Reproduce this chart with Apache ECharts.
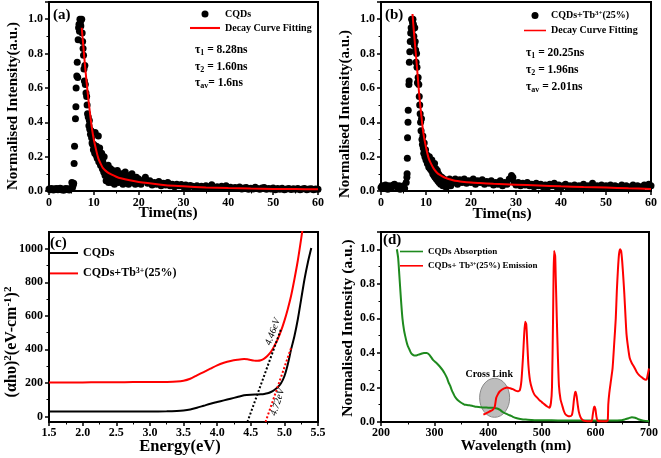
<!DOCTYPE html>
<html>
<head>
<meta charset="utf-8">
<script src="https://cdn.jsdelivr.net/npm/echarts@6/dist/echarts.min.js"></script>
<style>
  html, body { margin: 0; padding: 0; background: #fff; }
  #main { width: 661px; height: 458px; }
</style>
</head>
<body>
<div id="main"></div>
<script>
// ---- data ----
// (a) CQDs decay: [time ns, normalised intensity]
var aPoints = [[0,0.012],[0.25,0.008],[0.5,0.015],[0.75,0.010],[1,0.006],[1.25,0.013],[1.5,0.009],[1.75,0.014],[2,0.007],[2.25,0.011],[2.5,0.016],[2.75,0.008],[3,0.012],[3.25,0.005],[3.5,0.010],[3.75,0.014],[4,0.009],[4.25,0.013],[4.5,0.006],[4.75,0.011],[5,0.015],[5.1,0.05],[5.25,0.02],[5.4,0.035],[5.5,0.045],[5.6,0.16],[5.7,0.26],[5.9,0.42],[6.0,0.49],[6.05,0.60],[6.2,0.67],[6.3,0.75],[6.4,0.66],[6.5,0.88],[6.6,0.95],[6.7,0.97],[6.8,0.93],[6.9,1.0],[7.0,0.98],[7.1,0.96],[7.3,1.0],[7.4,0.92],[7.5,0.87],[7.6,0.83],[7.7,0.79],[7.8,0.71],[7.9,0.64],[8.0,0.73],[8.1,0.62],[8.25,0.57],[8.4,0.55],[8.5,0.50],[8.6,0.45],[8.75,0.43],[8.9,0.38],[9.0,0.41],[9.1,0.36],[9.25,0.33],[9.4,0.35],[9.5,0.31],[9.6,0.28],[9.75,0.27],[9.9,0.24],[10.0,0.27],[10.2,0.22],[10.3,0.34],[10.4,0.25],[10.5,0.21],[10.6,0.26],[10.75,0.19],[10.9,0.23],[11.0,0.32],[11.1,0.17],[11.2,0.21],[11.3,0.25],[11.5,0.15],[11.6,0.19],[11.75,0.22],[11.9,0.13],[12.0,0.17],[12.2,0.11],[12.3,0.2],[12.5,0.09],[12.6,0.14],[12.75,0.06],[12.9,0.12],[13.0,0.08],[13.2,0.15],[13.3,0.05],[13.5,0.11],[13.6,0.07],[13.75,0.13],[13.9,0.09],[14.0,0.05],[14.25,0.12],[14.5,0.08],[14.6,0.04],[14.75,0.1],[15.0,0.07],[15.25,0.12],[15.5,0.05],[15.75,0.09],[16.0,0.06],[16.25,0.1],[16.5,0.04],[16.75,0.08],[17.0,0.11],[17.25,0.06],[17.5,0.09],[17.75,0.04],[18.0,0.08],[18.25,0.06],[18.5,0.1],[18.75,0.05],[19.0,0.07],[19.25,0.04],[19.5,0.08],[19.75,0.05],[20,0.07],[20.5,0.04],[21,0.06],[21.5,0.08],[22,0.045],[22.5,0.06],[23,0.035],[23.5,0.05],[24,0.04],[24.5,0.055],[25,0.03],[25.5,0.045],[26,0.035],[26.5,0.05],[27,0.03],[27.5,0.04],[28,0.025],[28.5,0.04],[29,0.03],[29.5,0.038],[30,0.025],[30.5,0.035],[31,0.02],[31.5,0.032],[32,0.028],[32.5,0.02],[33,0.03],[33.5,0.018],[34,0.027],[34.5,0.022],[35,0.03],[35.5,0.02],[36,0.026],[36.3,0.036],[36.6,0.022],[37,0.018],[37.5,0.025],[38,0.02],[38.5,0.028],[39,0.015],[39.5,0.03],[40,0.018],[40.5,0.022],[41,0.014],[41.5,0.02],[42,0.016],[42.5,0.024],[43,0.012],[43.5,0.018],[44,0.02],[44.5,0.01],[45,0.016],[45.5,0.012],[46,0.022],[46.5,0.014],[47,0.01],[47.5,0.018],[48,0.02],[48.5,0.01],[49,0.015],[49.5,0.012],[50,0.018],[50.5,0.008],[51,0.014],[51.5,0.01],[52,0.016],[52.5,0.008],[53,0.012],[53.5,0.015],[54,0.009],[54.5,0.013],[55,0.01],[55.5,0.015],[56,0.008],[56.5,0.012],[57,0.014],[57.5,0.007],[58,0.011],[58.5,0.013],[59,0.008],[59.5,0.012],[60,0.01]];
var aFit = [[7.3,0.95],[7.6,0.86],[8.0,0.74],[8.4,0.63],[8.8,0.53],[9.2,0.44],[9.6,0.36],[10,0.30],[10.5,0.24],[11,0.19],[11.5,0.16],[12,0.135],[13,0.11],[14,0.095],[15,0.083],[16,0.074],[18,0.062],[20,0.053],[22,0.046],[25,0.037],[28,0.030],[30,0.027],[35,0.021],[40,0.017],[45,0.014],[50,0.012],[55,0.011],[60,0.010]];

// (b) CQDs+Tb3+(25%) decay
var bPoints = [[0,0.02],[0.25,0.03],[0.5,0.015],[0.75,0.025],[1,0.035],[1.25,0.02],[1.5,0.01],[1.75,0.03],[2,0.025],[2.25,0.02],[2.5,0.03],[2.75,0.035],[3,0.04],[3.25,0.03],[3.5,0.025],[3.75,0.02],[4,0.03],[4.25,0.01],[4.5,0.025],[4.75,0.02],[5,0.03],[5.25,0.015],[5.6,0.05],[5.75,0.08],[5.8,0.10],[5.85,0.19],[5.9,0.31],[6.0,0.40],[6.05,0.47],[6.2,0.62],[6.25,0.64],[6.3,0.75],[6.4,0.81],[6.5,0.87],[6.6,0.92],[6.7,0.95],[6.8,1.0],[6.9,0.93],[7.0,0.98],[7.1,1.0],[7.2,0.97],[7.3,0.90],[7.4,0.85],[7.5,0.95],[7.6,0.87],[7.7,0.82],[7.8,0.75],[7.9,0.80],[8.0,0.72],[8.1,0.63],[8.25,0.66],[8.4,0.62],[8.5,0.55],[8.6,0.50],[8.7,0.45],[8.8,0.40],[8.9,0.35],[9.0,0.42],[9.1,0.30],[9.2,0.27],[9.3,0.32],[9.4,0.25],[9.5,0.22],[9.6,0.28],[9.75,0.20],[9.9,0.24],[10.0,0.18],[10.2,0.21],[10.3,0.16],[10.5,0.19],[10.6,0.14],[10.75,0.2],[10.9,0.13],[11.0,0.17],[11.2,0.12],[11.3,0.18],[11.5,0.10],[11.6,0.15],[11.75,0.09],[11.9,0.16],[12.0,0.08],[12.2,0.13],[12.3,0.07],[12.5,0.12],[12.6,0.06],[12.75,0.1],[12.9,0.05],[13.0,0.09],[13.25,0.04],[13.5,0.08],[13.75,0.03],[14.0,0.07],[14.25,0.05],[14.5,0.02],[14.75,0.06],[15,0.04],[15.25,0.07],[15.5,0.03],[15.75,0.06],[16,0.05],[16.5,0.07],[17,0.04],[17.5,0.065],[18,0.05],[18.5,0.07],[19,0.045],[19.5,0.06],[20,0.05],[20.5,0.07],[21,0.04],[21.5,0.06],[22,0.05],[22.5,0.065],[23,0.04],[23.5,0.055],[24,0.045],[24.5,0.06],[25,0.035],[25.5,0.05],[26,0.04],[26.5,0.06],[27,0.03],[27.5,0.05],[28,0.04],[28.5,0.07],[29,0.09],[29.3,0.08],[29.6,0.05],[30,0.035],[30.5,0.05],[31,0.03],[31.5,0.045],[32,0.035],[32.5,0.05],[33,0.03],[33.5,0.04],[34,0.025],[34.5,0.045],[35,0.03],[35.5,0.04],[36,0.025],[36.5,0.035],[37,0.02],[37.5,0.04],[38,0.03],[38.5,0.045],[39,0.025],[39.5,0.035],[40,0.02],[40.5,0.03],[41,0.04],[41.5,0.02],[42,0.03],[42.5,0.025],[43,0.035],[43.5,0.02],[44,0.03],[44.5,0.025],[45,0.04],[45.5,0.02],[46,0.03],[46.5,0.025],[47,0.045],[47.5,0.02],[48,0.03],[48.5,0.02],[49,0.035],[49.5,0.025],[50,0.03],[50.5,0.02],[51,0.035],[51.5,0.015],[52,0.03],[52.5,0.025],[53,0.02],[53.5,0.035],[54,0.02],[54.5,0.03],[55,0.015],[55.5,0.025],[56,0.035],[56.5,0.02],[57,0.03],[57.5,0.025],[58,0.02],[58.5,0.035],[59,0.03],[59.5,0.04],[60,0.03]];
var bFit = [[7.0,1.03],[7.3,0.93],[7.6,0.84],[8.0,0.72],[8.3,0.62],[8.6,0.53],[9.0,0.43],[9.4,0.34],[9.8,0.28],[10.2,0.23],[10.6,0.19],[11.0,0.165],[11.5,0.14],[12,0.12],[12.5,0.105],[13,0.095],[14,0.08],[15,0.07],[16,0.063],[17,0.058],[18,0.054],[20,0.049],[22,0.046],[25,0.042],[30,0.037],[35,0.032],[40,0.027],[45,0.023],[50,0.02],[55,0.016],[60,0.012]];

// (c) Tauc plot: [energy eV, (ahv)^2]
var cCqds = [[1.5,30],[1.75,30],[2.0,30],[2.25,30],[2.5,30],[2.75,30],[3.0,30],[3.25,31],[3.4,33],[3.5,36],[3.6,42],[3.7,52],[3.8,64],[3.9,76],[4.0,86],[4.1,96],[4.2,106],[4.3,116],[4.4,126],[4.5,130],[4.6,131],[4.65,132],[4.7,134],[4.75,138],[4.8,146],[4.85,158],[4.9,174],[4.95,198],[5.0,240],[5.05,310],[5.1,400],[5.15,480],[5.2,580],[5.25,700],[5.3,820],[5.35,920],[5.4,1005]];
var cTb = [[1.5,203],[1.75,203],[2.0,203],[2.25,204],[2.5,204],[2.75,205],[3.0,205],[3.25,206],[3.4,208],[3.5,213],[3.6,225],[3.7,245],[3.8,265],[3.9,285],[4.0,305],[4.1,320],[4.2,331],[4.3,338],[4.4,342],[4.45,341],[4.5,337],[4.55,333],[4.6,332],[4.65,335],[4.7,345],[4.75,362],[4.8,385],[4.85,420],[4.9,460],[4.95,510],[5.0,570],[5.05,640],[5.1,720],[5.15,820],[5.2,930],[5.25,1060],[5.3,1200]];
var cTangentCqds = [[4.45,-33],[4.95,521]];
var cTangentTb = [[4.72,-33],[5.1,409]];

// (d) absorption / emission: [wavelength nm, normalised intensity]
var dAbsorption = [[229.6,1.0],[232,0.95],[234,0.86],[237,0.72],[240,0.60],[243,0.53],[245,0.50],[248,0.46],[250,0.44],[253,0.42],[256,0.40],[259,0.39],[262,0.385],[266,0.385],[270,0.39],[275,0.395],[280,0.40],[285,0.40],[290,0.39],[297,0.36],[304,0.34],[310,0.32],[315,0.30],[319,0.28],[323,0.255],[326,0.23],[329,0.21],[332,0.185],[335,0.165],[338,0.146],[342,0.13],[347,0.117],[352,0.107],[356,0.10],[360,0.099],[365,0.097],[372,0.092],[378,0.088],[385,0.086],[390,0.084],[400,0.083],[409,0.082],[414,0.08],[418,0.077],[422,0.07],[427,0.058],[433,0.048],[440,0.039],[446,0.03],[452,0.023],[460,0.018],[470,0.014],[480,0.012],[495,0.01],[507,0.01],[530,0.009],[560,0.008],[600,0.008],[630,0.008],[649,0.01],[655,0.015],[662,0.022],[668,0.028],[674,0.025],[680,0.016],[690,0.008],[700,0.004]];
var dEmission = [[391,0.043],[396,0.05],[402,0.06],[408,0.07],[412,0.085],[415,0.14],[418,0.16],[421,0.175],[426,0.188],[430,0.195],[436,0.20],[441,0.195],[446,0.19],[451,0.182],[455,0.178],[459,0.185],[462,0.24],[465,0.38],[467,0.5],[469,0.58],[471,0.565],[473,0.45],[475,0.33],[478,0.24],[482,0.19],[486,0.16],[490,0.145],[495,0.128],[500,0.115],[505,0.102],[510,0.09],[514,0.082],[517,0.11],[519,0.2],[521,0.6],[522,0.86],[523,0.99],[524,0.975],[525,0.96],[526,0.84],[528,0.6],[530,0.38],[532,0.21],[535,0.13],[538,0.097],[541,0.065],[544,0.045],[548,0.036],[552,0.033],[556,0.04],[558,0.07],[560,0.13],[562,0.17],[563,0.175],[565,0.15],[567,0.1],[569,0.06],[572,0.03],[575,0.015],[578,0.008],[585,0.005],[593,0.005],[595,0.04],[597,0.08],[598,0.09],[600,0.075],[602,0.03],[604,0.008],[612,0.004],[620,0.004],[623,0.01],[624,0.1],[626,0.17],[629,0.24],[632,0.31],[635,0.45],[638,0.6],[640,0.76],[642,0.88],[644,0.97],[646,1.0],[648,0.99],[650,0.93],[652,0.84],[654,0.74],[656,0.62],[658,0.51],[661,0.43],[664,0.37],[668,0.34],[672,0.32],[677,0.29],[682,0.27],[686,0.26],[690,0.25],[694,0.245],[696,0.25],[698,0.28],[700,0.31]];

var cMajorTicks = [0, 200, 400, 600, 800, 1000];
var cMinorTicks = [100, 300, 500, 700, 900];

var legendLabels = {
  a1: 'CQDs',
  a2: 'Decay Curve Fitting',
  b1: 'CQDs+Tb{sup|3+}(25%)',
  b2: 'Decay Curve Fitting',
  c1: 'CQDs',
  c2: 'CQDs+Tb{sup|3+}(25%)',
  d1: 'CQDs Absorption',
  d2: 'CQDs+ Tb{sup|3+}(25%) Emission'
};

var SERIF = '"Liberation Serif", "Times New Roman", serif';
var LINE_ICON = 'path://M0,0H100V7H0Z';

var chart = echarts.init(document.getElementById('main'));

function axisLabel(fmt, margin) {
  return { margin: margin, color: '#000', fontFamily: SERIF, fontWeight: 'bold', fontSize: 12, formatter: fmt };
}
function baseAxis(grid, min, max, interval, fmt, margin) {
  return {
    type: 'value', gridIndex: grid, min: min, max: max, interval: interval,
    axisLine: { show: true, onZero: false, lineStyle: { color: '#000', width: 2 } },
    axisTick: { show: true, length: 4, lineStyle: { color: '#000', width: 1.5 } },
    minorTick: { show: true, splitNumber: 2, length: 2.5, lineStyle: { color: '#000', width: 1 } },
    splitLine: { show: false },
    minorSplitLine: { show: false },
    axisLabel: axisLabel(fmt, margin)
  };
}
var f1 = function (v) { return v.toFixed(1); };
var f0 = function (v) { return String(v); };

var yA = baseAxis(0, 0, 1.1, 0.2, f1, 6); yA.axisLabel.showMaxLabel = false;
var yB = baseAxis(1, 0, 1.1, 0.2, f1, 6); yB.axisLabel.showMaxLabel = false;
var yD = baseAxis(3, 0, 1.1, 0.2, f1, 6); yD.axisLabel.showMaxLabel = false;

var yC = baseAxis(2, -33, 1100, null, f0, 6);
delete yC.interval;
yC.minorTick = { show: false };
yC.axisLabel.customValues = cMajorTicks;
yC.axisTick.customValues = cMajorTicks;
var yCminor = {
  type: 'value', gridIndex: 2, min: -33, max: 1100, position: 'left',
  axisLine: { show: false }, splitLine: { show: false },
  axisLabel: { show: false },
  axisTick: { show: true, length: 2.5, customValues: cMinorTicks, lineStyle: { color: '#000', width: 1 } }
};

function legendItems(scatterName, lineName) {
  return [scatterName, { name: lineName, icon: LINE_ICON }];
}

var option = {
  animation: false,
  backgroundColor: '#fff',
  grid: [
    { left: 49, top: 2, width: 269, height: 189, show: true, borderColor: '#000', borderWidth: 2 },
    { left: 381, top: 2, width: 270, height: 189, show: true, borderColor: '#000', borderWidth: 2 },
    { left: 49, top: 232, width: 269, height: 190, show: true, borderColor: '#000', borderWidth: 2 },
    { left: 381, top: 232, width: 270, height: 190, show: true, borderColor: '#000', borderWidth: 2 }
  ],
  xAxis: [
    baseAxis(0, 0, 60, 10, f0, 6),
    baseAxis(1, 0, 60, 10, f0, 6),
    baseAxis(2, 1.5, 5.5, 0.5, f1, 5),
    baseAxis(3, 200, 700, 100, f0, 5)
  ],
  yAxis: [yA, yB, yC, yD, yCminor],
  legend: [
    { data: legendItems('a1', 'a2'), left: 190, top: 9, orient: 'vertical', itemWidth: 30, itemHeight: 7, itemGap: 4 },
    { data: legendItems('b1', 'b2'), left: 524, top: 10, orient: 'vertical', itemWidth: 22, itemHeight: 7, itemGap: 5 },
    { data: [{ name: 'c1', icon: LINE_ICON }, { name: 'c2', icon: LINE_ICON }], left: 50, top: 247, orient: 'vertical', itemWidth: 28, itemHeight: 7, itemGap: 8, textStyle: { fontSize: 12 } },
    { data: [{ name: 'd1', icon: LINE_ICON }, { name: 'd2', icon: LINE_ICON }], left: 400, top: 247, orient: 'vertical', itemWidth: 23, itemHeight: 7, itemGap: 5, textStyle: { fontSize: 9 } }
  ].map(function (l) {
    var fs = (l.textStyle && l.textStyle.fontSize) || 10;
    l.formatter = function (name) { return legendLabels[name]; };
    l.textStyle = {
      color: '#000', fontFamily: SERIF, fontWeight: 'bold', fontSize: fs,
      rich: { sup: { fontSize: Math.round(fs * 0.65), fontFamily: SERIF, fontWeight: 'bold', color: '#000', verticalAlign: 'top', padding: [0, 0, fs * 0.4, 0] } }
    };
    l.selectedMode = false;
    l.padding = 0;
    return l;
  }),
  series: [
    { name: 'a1', type: 'scatter', xAxisIndex: 0, yAxisIndex: 0, symbol: 'circle', symbolSize: 7, itemStyle: { color: '#000', opacity: 1 }, data: aPoints },
    { name: 'a2', type: 'line', xAxisIndex: 0, yAxisIndex: 0, symbol: 'none', smooth: 0.3, z: 5, lineStyle: { color: '#ff0000', width: 2 }, itemStyle: { color: '#ff0000' }, data: aFit },
    { name: 'b1', type: 'scatter', xAxisIndex: 1, yAxisIndex: 1, symbol: 'circle', symbolSize: 7, itemStyle: { color: '#000', opacity: 1 }, data: bPoints },
    { name: 'b2', type: 'line', xAxisIndex: 1, yAxisIndex: 1, symbol: 'none', smooth: 0.3, z: 5, lineStyle: { color: '#ff0000', width: 2 }, itemStyle: { color: '#ff0000' }, data: bFit },
    { name: 'c1', type: 'line', xAxisIndex: 2, yAxisIndex: 2, symbol: 'none', smooth: 0.3, lineStyle: { color: '#000', width: 2 }, itemStyle: { color: '#000' }, data: cCqds },
    { name: 'c2', type: 'line', xAxisIndex: 2, yAxisIndex: 2, symbol: 'none', smooth: 0.3, lineStyle: { color: '#ff0000', width: 2 }, itemStyle: { color: '#ff0000' }, data: cTb },
    { name: 'cT1', type: 'line', xAxisIndex: 2, yAxisIndex: 2, symbol: 'none', lineStyle: { color: '#000', width: 2, type: [2, 2] }, data: cTangentCqds },
    { name: 'cT2', type: 'line', xAxisIndex: 2, yAxisIndex: 2, symbol: 'none', z: 4, lineStyle: { color: '#ff0000', width: 2, type: [2, 2] }, data: cTangentTb },
    { name: 'd1', type: 'line', xAxisIndex: 3, yAxisIndex: 3, symbol: 'none', smooth: 0.2, z: 4, lineStyle: { color: '#1e8a1e', width: 2 }, itemStyle: { color: '#1e8a1e' }, data: dAbsorption },
    { name: 'd2', type: 'line', xAxisIndex: 3, yAxisIndex: 3, symbol: 'none', smooth: 0.2, z: 5, lineStyle: { color: '#ff0000', width: 2 }, itemStyle: { color: '#ff0000' }, data: dEmission }
  ]
};
chart.setOption(option);

// text annotations and titles
function txt(x, y, text, size, extra) {
  var st = { text: text, fontFamily: SERIF, fontWeight: 'bold', fontSize: size, fill: '#000', align: 'left', verticalAlign: 'middle' };
  for (var k in extra) st[k] = extra[k];
  return { type: 'text', x: x, y: y, z: 100, style: st };
}
function vtitle(x, y, text, size, rich) {
  var g = txt(x, y, text, size, { align: 'center', rich: rich });
  g.rotation = Math.PI / 2;
  return g;
}
var tauRich = {
  t: { fontFamily: SERIF, fontWeight: 'bold', fontSize: 11.5, fill: '#000' },
  s: { fontFamily: SERIF, fontWeight: 'bold', fontSize: 8, fill: '#000', verticalAlign: 'bottom', padding: [6, 0, 0, 0] }
};
var cellip = chart.convertToPixel({ gridIndex: 3 }, [412, 0.14]);
var ctext = chart.convertToPixel({ gridIndex: 3 }, [402, 0.275]);
var lab1 = chart.convertToPixel({ gridIndex: 2 }, [4.83, 505]);
var lab2 = chart.convertToPixel({ gridIndex: 2 }, [4.9, 85]);

var graphics = [
  { type: 'ellipse', z: 1, shape: { cx: cellip[0], cy: cellip[1], rx: 15, ry: 19.5 }, style: { fill: '#bdbdbd', stroke: '#8a8a8a', lineWidth: 1 } },
  txt(53, 15, '(a)', 15),
  txt(385, 15, '(b)', 15),
  txt(50, 243, '(c)', 15),
  txt(383, 240, '(d)', 15),
  txt(195, 50, '{t|τ}{s|1}{t| = 8.28ns}', 11.5, { rich: tauRich }),
  txt(195, 67, '{t|τ}{s|2}{t| = 1.60ns}', 11.5, { rich: tauRich }),
  txt(195, 83, '{t|τ}{s|av}{t|= 1.6ns}', 11.5, { rich: tauRich }),
  txt(526, 53, '{t|τ}{s|1}{t| = 20.25ns}', 11.5, { rich: tauRich }),
  txt(526, 70, '{t|τ}{s|2}{t| = 1.96ns}', 11.5, { rich: tauRich }),
  txt(526, 87, '{t|τ}{s|av}{t| = 2.01ns}', 11.5, { rich: tauRich }),
  txt(168, 213, 'Time(ns)', 15.5, { align: 'center' }),
  txt(502, 214, 'Time(ns)', 15.5, { align: 'center' }),
  txt(180, 447, 'Energy(eV)', 16.5, { align: 'center' }),
  txt(516, 446, 'Wavelength (nm)', 15, { align: 'center' }),
  vtitle(13, 106, 'Normalised Intensity(a.u.)', 15),
  vtitle(345, 114, 'Normalised Intensity(a.u.)', 15),
  vtitle(348, 328, 'Normalised Intensity (a.u.)', 15.5),
  vtitle(12, 342, '{n|(αhυ)}{s|2}{n|(eV-cm}{s|-1}{n|)}{s|2}', 16, {
    n: { fontFamily: SERIF, fontWeight: 'bold', fontSize: 16, fill: '#000' },
    s: { fontFamily: SERIF, fontWeight: 'bold', fontSize: 11, fill: '#000', verticalAlign: 'top', padding: [0, 0, 8, 0] }
  }),
  txt(ctext[0], ctext[1], 'Cross Link', 10, { align: 'center' }),
  { type: 'text', x: lab1[0], y: lab1[1], rotation: 70 * Math.PI / 180, z: 100,
    style: { text: '4.46eV', fontFamily: SERIF, fontStyle: 'italic', fontSize: 10, fill: '#000', align: 'center', verticalAlign: 'middle' } },
  { type: 'text', x: lab2[0], y: lab2[1], rotation: 72 * Math.PI / 180, z: 100,
    style: { text: '4.72eV', fontFamily: SERIF, fontStyle: 'italic', fontSize: 10, fill: '#000', align: 'center', verticalAlign: 'middle' } }
];
chart.setOption({ graphic: graphics });
</script>
</body>
</html>
